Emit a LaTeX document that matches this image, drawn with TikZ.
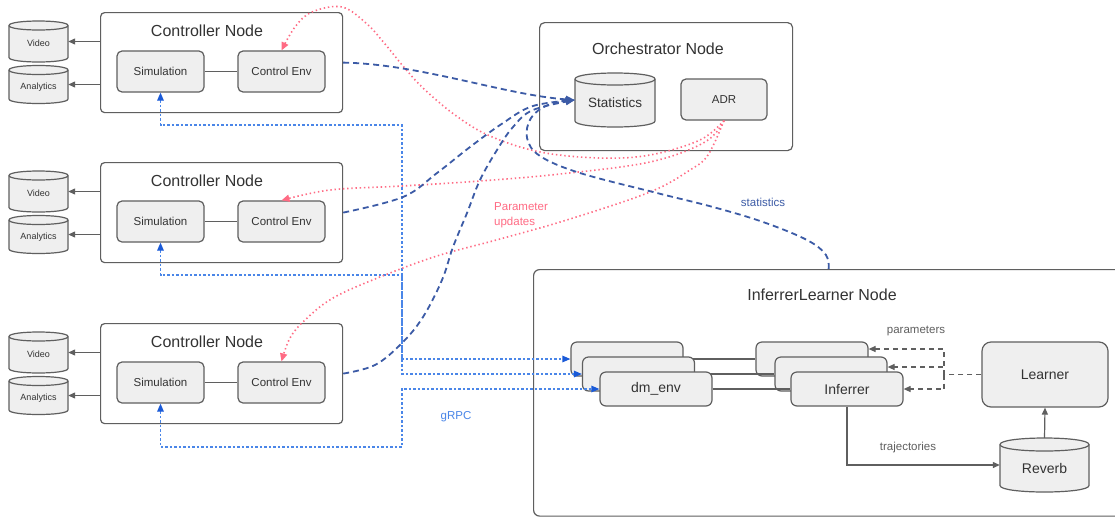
\documentclass[tikz,border=0pt]{standalone}
\usepackage{fontspec}
\setmainfont{Liberation Sans}
\usetikzlibrary{arrows.meta}

\definecolor{boxfill}{HTML}{EFEFEF}
\definecolor{boxline}{HTML}{5F5F5F}
\definecolor{ink}{HTML}{333333}
\definecolor{statblue}{HTML}{3C5BA6}
\definecolor{rpcblue}{HTML}{4A86E8}
\definecolor{rpctip}{HTML}{1A5AD8}
\definecolor{updpink}{HTML}{FF6B84}

\newcommand\fsz[1]{\fontsize{#1pt}{#1pt}\selectfont}

\tikzset{
  boxhost/.style={draw=boxline, line width=1.2pt, fill=white, rounded corners=4pt, inner sep=0pt},
  boxunit/.style={draw=boxline, line width=1.2pt, fill=boxfill, rounded corners=5pt,
    inner sep=0pt, text=ink, font=\fsz{11.5}},
  boxbig/.style={boxunit, rounded corners=6pt, font=\fsz{14}, minimum width=112pt, minimum height=34pt},
  txttitle/.style={text=ink, font=\fsz{16}, inner sep=0pt},
  txtnote/.style={font=\fsz{11.5}, inner sep=0pt},
  drumbody/.style={draw=boxline, line width=1.2pt, fill=boxfill},
  drumline/.style={draw=boxline, line width=1.2pt},
  drumnode/.style={inner sep=0pt, shape=rectangle},
  drumtext/.style={text=ink, inner sep=0pt},
  arrfeed/.style={draw=boxline, line width=1.2pt, -{Triangle[length=7pt,width=6pt]}},
  lnlink/.style={draw=boxline, line width=1.1pt},
  lnparam/.style={draw=boxline, line width=1.2pt, dash pattern=on 5pt off 4pt},
  tipparam/.style={-{Triangle[length=7pt,width=6pt]}},
  lnstat/.style={draw=statblue, line width=1.8pt, dash pattern=on 6pt off 4pt,
    -{Triangle[length=9pt,width=7pt]}},
  lnrpc/.style={draw=rpcblue, line width=1.2pt, dash pattern=on 2.5pt off 2pt,
    {Triangle[length=8pt,width=6.5pt,color=rpctip]}-{Triangle[length=8pt,width=6.5pt,color=rpctip]}},
  lnupd/.style={draw=updpink, line width=1.6pt, dash pattern=on 1.4pt off 2.8pt,
    -{Triangle[length=8pt,width=7pt]}},
}

% storage drum: name, centre x, centre y, width, height, cap radius, label
\newcommand\drum[7]{%
  \filldraw[drumbody] ({#2-#4/2},{#3-#5/2+#6}) -- ({#2-#4/2},{#3+#5/2-#6})
    .. controls ({#2-#4/2},{#3+#5/2+#6/3}) and ({#2+#4/2},{#3+#5/2+#6/3}) .. ({#2+#4/2},{#3+#5/2-#6})
    -- ({#2+#4/2},{#3-#5/2+#6})
    .. controls ({#2+#4/2},{#3-#5/2-#6/3}) and ({#2-#4/2},{#3-#5/2-#6/3}) .. cycle;
  \draw[drumline] ({#2-#4/2},{#3-#5/2+#6})
    .. controls ({#2-#4/2},{#3-#5/2+#6*7/3}) and ({#2+#4/2},{#3-#5/2+#6*7/3}) .. ({#2+#4/2},{#3-#5/2+#6});
  \node[drumnode, minimum width=#4pt, minimum height=#5pt,
    label={[drumtext, yshift=-#6pt/2]center:#7}] (#1) at (#2,#3) {};
}

\begin{document}
\begin{tikzpicture}[x=1pt,y=-1pt]
\useasboundingbox (0,0) rectangle (1115,517);
\fill[white] (0,0) rectangle (1115,517);

% ---------- controller nodes ----------
\foreach \t/\i in {12/1,162/2,323/3}{
  \node[boxhost, minimum width=242pt, minimum height=100pt, anchor=north west] (ctrl\i) at (100,\t) {};
  \node[txttitle] at (207,{\t+19}) {Controller Node};
  \node[boxunit, minimum width=87pt, minimum height=41pt] (sim\i) at (160.5,{\t+59.5}) {Simulation};
  \node[boxunit, minimum width=87pt, minimum height=41pt] (ce\i) at (281.5,{\t+59.5}) {Control Env};
  \draw[lnlink] (sim\i) -- (ce\i);
  \drum{vid\i}{38.5}{\t+29.5}{59}{41}{4.5}{\fsz{9}Video}
  \drum{ana\i}{38.5}{\t+72.5}{59}{38}{4.5}{\fsz{9}Analytics}
  \draw[arrfeed] (ctrl\i.west |- vid\i.east) -- (vid\i.east);
  \draw[arrfeed] (ctrl\i.west |- ana\i.east) -- (ana\i.east);
}

% ---------- orchestrator ----------
\node[boxhost, rounded corners=5pt, minimum width=253pt, minimum height=128pt, anchor=north west] (orch) at (539,22) {};
\node[txttitle] at (658,49) {Orchestrator Node};
\drum{stats}{615}{100}{80}{54}{6}{\fsz{13.5}Statistics}
\node[boxunit, minimum width=86pt, minimum height=41pt] (adr) at (724,99.5) {ADR};

% ---------- inferrer / learner ----------
\node[boxhost, rounded corners=6pt, minimum width=590pt, minimum height=246.5pt, anchor=north west] (il) at (533,269) {};
\node[txttitle] at (822,295) {InferrerLearner Node};

\node[boxbig] (dmA) at (627,359) {};
\node[boxbig] (infA) at (812,359) {};
\draw[lnlink] (dmA.east) -- (infA.west);
\node[boxbig] (dmB) at (638.5,374) {};
\node[boxbig] (infB) at (831,374) {};
\draw[lnlink] (dmB.east) -- (infB.west);
\node[boxbig] (dmC) at (656,389) {dm\_env};
\node[boxbig] (infC) at (847,389) {Inferrer};
\draw[lnlink] (dmC.east) -- (infC.west);

\node[boxunit, rounded corners=9pt, font=\fsz{14}, minimum width=126pt, minimum height=65pt] (learn) at (1045,374.5) {Learner};
\drum{reverb}{1044.5}{465}{89}{54}{6.5}{\fsz{14}Reverb}

\draw[arrfeed] (infC.south) |- (reverb.west);
\draw[arrfeed] (reverb.north) -- (learn.south);
\node[txtnote, text=boxline] at (908,448) {trajectories};

\coordinate (pj) at (944,374.5);
\draw[lnparam] (learn.west) -- (pj);
\draw[lnparam, tipparam] (pj) |- ([yshift=10pt]infA.east);
\draw[lnparam, tipparam] (pj) |- ([yshift=7pt]infB.east);
\draw[lnparam, tipparam] (pj) |- (infC.east);
\node[txtnote, text=boxline] at (916,331) {parameters};

% ---------- gRPC links ----------
\draw[lnrpc] (sim1.south) |- (402,125) -- (402,359) -- (dmA.west);
\draw[lnrpc] (sim2.south) |- (402,275) -- (402,374) -- (dmB.west);
\draw[lnrpc] (sim3.south) |- (402,447) -- (402,389) -- (dmC.west);
\node[txtnote, text=rpcblue] at (456,417) {gRPC};

% ---------- parameter updates from ADR ----------
\draw[lnupd] plot[smooth, tension=0.6] coordinates {(adr.south) (700,140) (650,155) (600,158)
  (540,152) (490,136) (455,115) (423,88) (403,66) (385,44) (367,24) (342,7) (312,12) (295,27) (ce1.north)};
\draw[lnupd] plot[smooth, tension=0.6] coordinates {(adr.south) (705,142) (650,162) (560,174)
  (480,181) (402,186) (330,190) (ce2.north)};
\draw[lnupd] plot[smooth, tension=0.6] coordinates {(adr.south) (708,155) (690,170) (650,192)
  (570,219) (500,239) (437,256) (380,277) (333,298) (305,320) (290,338) (ce3.north)};
\node[txtnote, text=updpink, align=left, anchor=west, font=\fontsize{11.5pt}{15pt}\selectfont]
  at (494,215.5) {Parameter\\updates};

% ---------- statistics streams ----------
\draw[lnstat] (ctrl1.east) .. controls (420,64) and (505,95) .. (stats.west);
\draw[lnstat] plot[smooth, tension=0.6] coordinates {(ctrl2.east) (403,197) (437,173) (470,147)
  (503,123) (533,106) (stats.west)};
\draw[lnstat] plot[smooth, tension=0.6] coordinates {(ctrl3.east) (375,365) (402,343) (423,317)
  (442,280) (453,247) (467,213) (480,180) (497,150) (513,127) (533,110) (stats.west)};
\draw[lnstat] plot[smooth, tension=0.6] coordinates {(il.north) (826,255) (807,240) (763,222)
  (713,207) (657,193) (580,173) (540,156) (527,138) (531,118) (548,105) (stats.west)};
\node[txtnote, text=statblue] at (763,202) {statistics};
\end{tikzpicture}
\end{document}
